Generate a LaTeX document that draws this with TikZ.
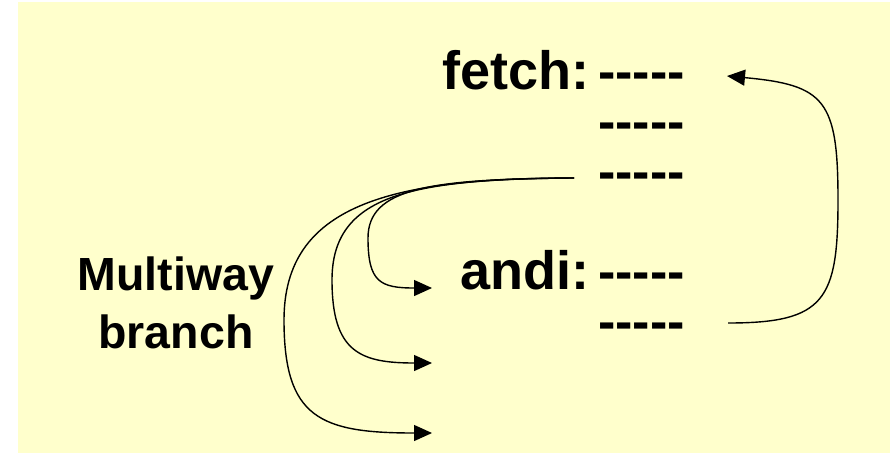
\documentclass[tikz,border=0pt]{standalone}
\usepackage{fontspec}
\setmainfont{Liberation Sans}
\usetikzlibrary{arrows.meta}
\definecolor{paper}{HTML}{FFFFCC}
\tikzset{
  big/.style={font=\fontsize{52}{60}\selectfont\bfseries, inner sep=0pt},
  label/.style={font=\fontsize{54}{60}\selectfont\bfseries, inner sep=0pt, anchor=base east},
  side/.style={font=\fontsize{46.5}{58}\selectfont\bfseries, inner sep=0pt, anchor=base},
  dashrow/.style={big, anchor=base west},
  jump/.style={line width=1.4pt, -{Triangle[length=18pt,width=16pt]}},
}
\begin{document}
\begin{tikzpicture}[x=1pt, y=-1pt]
  \useasboundingbox (0,0) rectangle (890,453);
  \fill[paper] (18,2) rectangle (890,453);

  % code listing: labels and instruction placeholders
  \node[label] (fetch) at (590,89.5) {fetch:};
  \node[dashrow] (d1) at (598,89.5) {-{}-{}-{}-{}-};
  \node[dashrow] (d2) at (598,139.5) {-{}-{}-{}-{}-};
  \node[dashrow] (d3) at (598,189.5) {-{}-{}-{}-{}-};
  \node[label] (andi) at (590,289.5) {andi:};
  \node[dashrow] (d4) at (598,289.5) {-{}-{}-{}-{}-};
  \node[dashrow] (d5) at (598,339.5) {-{}-{}-{}-{}-};

  % caption on the left
  \node[side] (multi) at (176,290) {Multiway};
  \node[side] (branch) at (176,348) {branch};

  % end points of the jumps
  \coordinate (src) at (574,178);
  \coordinate (t1) at (432,288);
  \coordinate (t2) at (432,363);
  \coordinate (t3) at (432,433);
  \coordinate (loopstart) at (728,323);
  \coordinate (loopend) at (727,76);

  % multiway branch targets
  \draw[jump] (src) .. controls (430,179) and (368,188) .. (368,238)
                    .. controls (368,282) and (380,288) .. (t1);
  \draw[jump] (src) .. controls (410,179) and (332,195) .. (332,280)
                    .. controls (332,352) and (360,363) .. (t2);
  \draw[jump] (src) .. controls (390,178) and (284,205) .. (284,320)
                    .. controls (284,418) and (320,433) .. (t3);

  % loop back to fetch
  \draw[jump] (loopstart) .. controls (825,323) and (838,300) .. (838,200)
                          .. controls (838,100) and (825,85) .. (loopend);
\end{tikzpicture}
\end{document}
